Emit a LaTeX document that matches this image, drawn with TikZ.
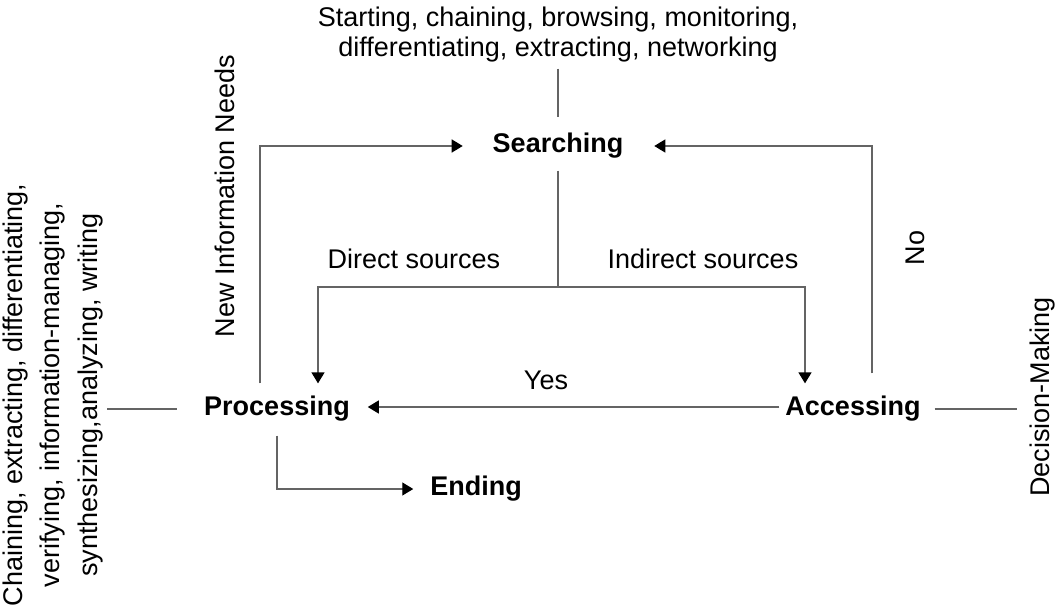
\documentclass[tikz,border=0pt]{standalone}
\usepackage{fontspec}
\setmainfont{Liberation Sans}
\usetikzlibrary{arrows.meta}
\definecolor{linegray}{RGB}{100,100,100}
\begin{document}
\begin{tikzpicture}[x=1pt,y=-1pt,
  txt/.style={font=\fontsize{27}{30}\selectfont, inner sep=0pt, outer sep=0pt, align=center},
  stage/.style={txt, font=\fontsize{27}{30}\selectfont\bfseries},
  ln/.style={draw=linegray, line width=1.3pt},
  arr/.style={ln, -{Triangle[length=11pt,width=13pt,color=black]}}]
\useasboundingbox (0,0) rectangle (1058,613);

\node[txt] (top) at (558,35) {Starting, chaining, browsing, monitoring,\\differentiating, extracting, networking};
\node[stage] (search) at (558,146) {Searching};
\node[stage] (proc) at (277,409) {Processing};
\node[stage] (acc) at (853,409) {Accessing};
\node[stage] (ending) at (476,489) {Ending};
\node[txt] (direct) at (414,259) {Direct sources};
\node[txt] (indirect) at (703,259) {Indirect sources};
\node[txt] (yes) at (546,380) {Yes};
\node[txt,rotate=90] (no) at (915,248) {No};
\node[txt,rotate=90] (newinfo) at (225,196) {New Information Needs};
\node[txt,rotate=90,font=\fontsize{27}{37.5}\selectfont] (acts) at (53,395) {Chaining, extracting, differentiating,\\verifying, information-managing,\\synthesizing,analyzing, writing};
\node[txt,rotate=90] (dm) at (1043,397) {Decision-Making};

\coordinate (split) at (558,287);
\draw[ln] ([yshift=-6pt]top.south) -- ([yshift=16pt]search.north);
\draw[ln] ([yshift=-12pt]search.south) -- (split);
\draw[arr] (split) -| ([xshift=41pt,yshift=13pt]proc.north);
\draw[arr] (split) -| ([xshift=-48pt,yshift=13pt]acc.north);
\draw[arr] ([xshift=-17pt,yshift=13pt]proc.north) |- ([xshift=-30pt]search.west);
\draw[arr] ([xshift=19pt,yshift=23pt]acc.north) |- ([xshift=31pt]search.east);
\draw[arr] ([xshift=-6pt,yshift=2pt]acc.west) -- ([xshift=18pt,yshift=2pt]proc.east);
\draw[arr] ([yshift=-14pt]proc.south) |- ([xshift=-17pt]ending.west);
\draw[ln] ([xshift=4pt]acts.south |- proc.west) -- ([xshift=-27pt]proc.west);
\draw[ln] ([xshift=14pt]acc.east) -- ([xshift=-13pt]dm.north |- acc.east);
\end{tikzpicture}
\end{document}
